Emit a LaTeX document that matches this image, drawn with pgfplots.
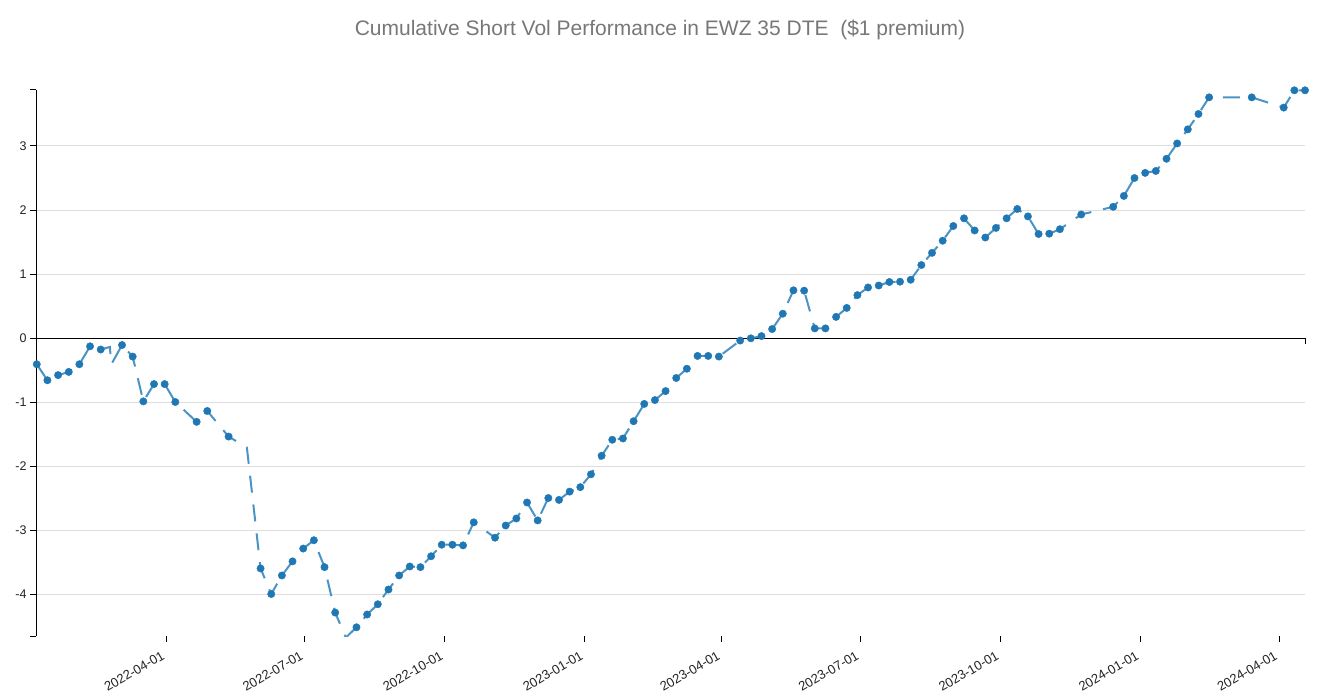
\documentclass[border=0pt]{standalone}
\usepackage{fontspec}
\setmainfont{Liberation Sans}
\usepackage{pgfplots}
\pgfplotsset{compat=1.18}
\usepackage{pgfplotstable}
\definecolor{markblue}{HTML}{1F77B4}
\definecolor{lineblue}{HTML}{4C93C5}
\definecolor{titlegray}{HTML}{777777}
\definecolor{gridgray}{HTML}{DEDEDE}
\definecolor{ticktext}{HTML}{222222}

% d = days since 2022-01-01, v = cumulative performance, m = 1 if a dot is drawn
\pgfplotstableread{
d v m
5 -0.41 1
12 -0.66 1
19 -0.58 1
26 -0.53 1
33 -0.41 1
40 -0.13 1
47 -0.18 1
53 -0.14 0
54 -0.41 0
61 -0.11 1
68 -0.29 1
75 -0.99 1
82 -0.72 1
89 -0.72 1
96 -1.00 1
110 -1.31 1
117 -1.14 1
131 -1.54 1
143 -1.71 0
152 -3.60 1
159 -4.00 1
166 -3.71 1
173 -3.49 1
180 -3.29 1
187 -3.16 1
194 -3.58 1
201 -4.29 1
208 -4.68 1
215 -4.52 1
222 -4.32 1
229 -4.16 1
236 -3.93 1
243 -3.71 1
250 -3.57 1
257 -3.58 1
264 -3.41 1
271 -3.23 1
278 -3.23 1
285 -3.24 1
292 -2.88 1
306 -3.12 1
313 -2.93 1
320 -2.82 1
327 -2.57 1
334 -2.85 1
341 -2.50 1
348 -2.53 1
355 -2.40 1
362 -2.33 1
369 -2.13 1
376 -1.84 1
383 -1.59 1
390 -1.57 1
397 -1.30 1
404 -1.03 1
411 -0.97 1
418 -0.83 1
425 -0.625 1
432 -0.48 1
439 -0.28 1
446 -0.28 1
453 -0.29 1
467 -0.04 1
474 -0.005 1
481 0.03 1
488 0.14 1
495 0.38 1
502 0.745 1
509 0.74 1
516 0.15 1
523 0.15 1
530 0.33 1
537 0.47 1
544 0.67 1
551 0.79 1
558 0.82 1
565 0.875 1
572 0.88 1
579 0.91 1
586 1.14 1
593 1.33 1
600 1.52 1
607 1.75 1
614 1.87 1
621 1.68 1
628 1.57 1
635 1.72 1
642 1.87 1
649 2.016 1
656 1.90 1
663 1.625 1
670 1.63 1
677 1.70 1
691 1.93 1
712 2.05 1
719 2.22 1
726 2.50 1
733 2.58 1
740 2.61 1
747 2.80 1
754 3.04 1
761 3.26 1
768 3.50 1
775 3.76 1
803 3.76 1
824 3.60 1
831 3.87 1
838 3.87 1
}\perf

\begin{document}
\begin{tikzpicture}[x=1pt,y=1pt]
\path[use as bounding box] (0,0) rectangle (1322,696);
\begin{axis}[
  at={(36pt,60pt)}, anchor=south west,
  scale only axis, width=1269pt, height=546pt,
  xmin=4.5, xmax=838, ymin=-4.656, ymax=3.875,
  axis y line*=left, axis x line*=bottom,
  x axis line style={draw=none},
  y axis line style={black, line width=1pt},
  tick align=outside, major tick length=6pt,
  tick style={black, line width=1pt},
  /pgf/number format/assume math mode=true,
  xtick={90,181,273,365,455,546,638,730,821},
  xticklabels={2022-04-01,2022-07-01,2022-10-01,2023-01-01,2023-04-01,2023-07-01,2023-10-01,2024-01-01,2024-04-01},
  xticklabel style={xshift=-5pt, yshift=-7pt, rotate=30, anchor=north east, font=\fontsize{13}{15}\selectfont, text=ticktext, inner sep=1pt},
  ytick={-4,-3,-2,-1,0,1,2,3},
  yticklabel style={font=\fontsize{12.5}{15}\selectfont, text=ticktext},
  ymajorgrids, major grid style={gridgray, line width=1pt},
  extra y ticks={-4.656,3.875}, extra y tick labels={},
  extra y tick style={ymajorgrids=false},
  title={Cumulative Short Vol Performance in EWZ 35 DTE\ \ (\$1 premium)},
  title style={at={(0.5,1)}, anchor=base, yshift=48pt, xshift=-10.5pt,
    font=\fontsize{21}{25}\selectfont, text=titlegray},
]
\draw[black, line width=1pt] (axis cs:4.5,0) -- (axis cs:838,0);
\addplot[lineblue, line width=2pt, dash pattern=on 17pt off 12pt, no marks] table[x=d, y=v] {\perf};
\addplot[only marks, mark=*, mark size=3.7pt, color=markblue, mark options={draw=markblue, fill=markblue}, restrict expr to domain={\thisrow{m}}{0.5:1.5}] table[x=d, y=v] {\perf};
\end{axis}
\draw[black, line width=1pt] (1305,358) -- (1305,352);
\end{tikzpicture}
\end{document}
